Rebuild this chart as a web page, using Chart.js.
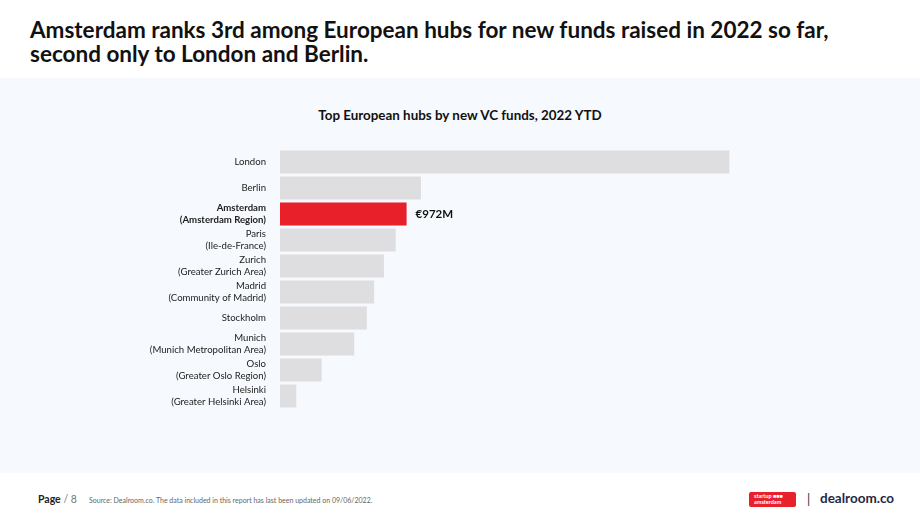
<!DOCTYPE html>
<html lang="en">
<head>
<meta charset="UTF-8">
<title>Top European hubs by new VC funds</title>
<script src="https://cdn.jsdelivr.net/npm/chart.js"></script>
<style>
  html, body { margin: 0; padding: 0; background: #ffffff; }
  body { width: 920px; height: 518px; position: relative; overflow: hidden; font-family: Lato, "Noto Sans", sans-serif; color: #111; }
  #headline { position: absolute; left: 30px; top: 18px; font-size: 22.5px; font-weight: 700; line-height: 24px; color: #111; }
  #panel { position: absolute; left: 0; top: 78px; width: 920px; height: 395px; background: #f6f9fd; }
  #subtitle { position: absolute; left: 0; width: 920px; top: 107px; text-align: center; font-size: 13.4px; font-weight: 700; color: #111; }
  #chartBox { position: absolute; left: 0; top: 149px; width: 920px; height: 260px; }
  #page { position: absolute; left: 38px; top: 493px; font-size: 10.5px; }
  #page b { color: #222; }
  #page span { color: #777; }
  #source { position: absolute; left: 89px; top: 496px; font-size: 7px; color: #666; }
  #logo1 { position: absolute; left: 749px; top: 492px; width: 47px; height: 15px; background: #e8202a; border-radius: 2px; color: #fff; font-size: 5.5px; line-height: 6px; font-weight: 700; padding: 1px 0 0 5px; box-sizing: border-box; }
  #sep { position: absolute; left: 807px; top: 491px; font-size: 13px; color: #333; }
  #logo2 { position: absolute; left: 820px; top: 490px; font-size: 13.5px; font-weight: 700; color: #1f2a44; }
</style>
</head>
<body>
<div id="headline">Amsterdam ranks 3rd among European hubs for new funds raised in 2022 so far,<br>second only to London and Berlin.</div>
<div id="panel"></div>
<div id="subtitle">Top European hubs by new VC funds, 2022 YTD</div>
<div id="chartBox"><canvas id="hubChart"></canvas></div>
<div id="page"><b>Page</b> <span>/ 8</span></div>
<div id="source">Source: Dealroom.co. The data included in this report has last been updated on 09/06/2022.</div>
<div id="logo1">startup ■■■<br>amsterdam</div>
<div id="sep">|</div>
<div id="logo2">dealroom.co</div>

<script>
// hubs, in ranking order
var hubs = [
    ["London"],
    ["Berlin"],
    ["Amsterdam", "(Amsterdam Region)"],
    ["Paris", "(Ile-de-France)"],
    ["Zurich", "(Greater Zurich Area)"],
    ["Madrid", "(Community of Madrid)"],
    ["Stockholm"],
    ["Munich", "(Munich Metropolitan Area)"],
    ["Oslo", "(Greater Oslo Region)"],
    ["Helsinki", "(Greater Helsinki Area)"]
];
// new VC funds raised, € millions (only Amsterdam is labelled, rest estimated)
var fundsRaised = [3450, 1082, 972, 888, 798, 723, 667, 570, 320, 125];
var highlightIndex = 2;
var highlightLabel = "€972M";

var barColors = fundsRaised.map(function(v, i) {
    return i === highlightIndex ? "#e8202a" : "#dedee0";
});

// draws the value next to the highlighted bar
var valueLabel = {
    id: "valueLabel",
    afterDatasetsDraw: function(chart) {
        var bar = chart.getDatasetMeta(0).data[highlightIndex];
        var ctx = chart.ctx;
        ctx.save();
        ctx.font = "bold 11.5px Lato, 'Noto Sans', sans-serif";
        ctx.fillStyle = "#111";
        ctx.textBaseline = "middle";
        ctx.fillText(highlightLabel, bar.x + 9, bar.y);
        ctx.restore();
    }
};

var ctx = document.getElementById("hubChart").getContext("2d");
var hubChart = new Chart(ctx, {
    type: "bar",
    data: {
        labels: hubs,
        datasets: [{
            data: fundsRaised,
            backgroundColor: barColors,
            borderWidth: 0,
            categoryPercentage: 1.0,
            barPercentage: 0.88
        }]
    },
    options: {
        indexAxis: "y",
        responsive: true,
        maintainAspectRatio: false,
        animation: false,
        layout: { padding: { left: 0, right: 119, top: 0, bottom: 0 } },
        plugins: {
            legend: { display: false },
            tooltip: { enabled: false }
        },
        scales: {
            x: {
                display: false,
                min: 0,
                max: 4000
            },
            y: {
                afterFit: function(scale) {
                    scale.width = 280;
                    scale.paddingTop = 0;
                    scale.paddingBottom = 0;
                },
                grid: { display: false },
                border: { display: false },
                ticks: {
                    autoSkip: false,
                    color: "#222",
                    padding: 6,
                    font: function(c) {
                        return {
                            family: "Lato, 'Noto Sans', sans-serif",
                            size: 9.6,
                            weight: c.index === highlightIndex ? "bold" : "normal",
                            lineHeight: 1.3
                        };
                    }
                }
            }
        }
    },
    plugins: [valueLabel]
});
</script>
</body>
</html>
